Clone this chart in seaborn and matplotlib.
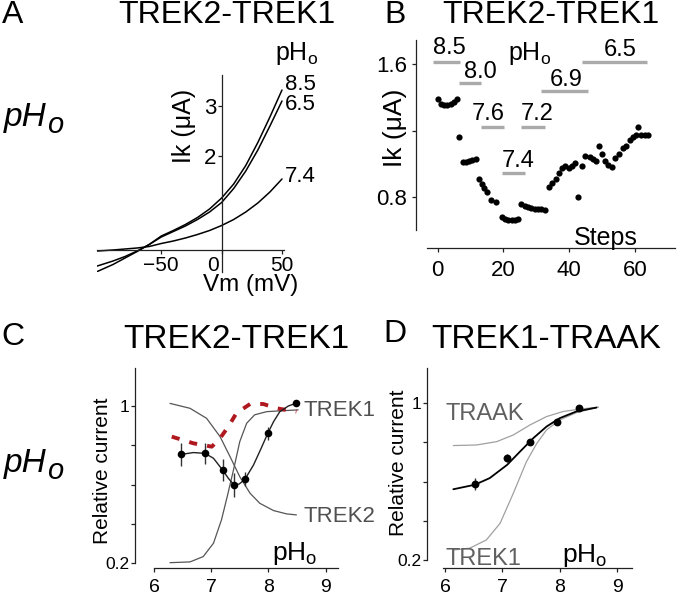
import matplotlib
matplotlib.use("Agg")
import matplotlib.pyplot as plt
import seaborn as sns
from matplotlib.transforms import ScaledTranslation

# A: I-V curves (TREK2-TREK1) at three pHo
vm = [-103, -90, -80, -70, -60, -50, -40, -30, -20, -10, 0, 10, 20, 30, 40, 50]
ik_85 = [-0.31, -0.17, -0.04, 0.09, 0.23, 0.40, 0.51, 0.63, 0.77, 0.94, 1.16, 1.44, 1.81, 2.27, 2.78, 3.32]
ik_65 = [-0.20, -0.10, -0.01, 0.10, 0.23, 0.38, 0.49, 0.60, 0.73, 0.88, 1.07, 1.35, 1.70, 2.12, 2.60, 3.10]
ik_74 = [0.10, 0.12, 0.14, 0.16, 0.19, 0.25, 0.30, 0.36, 0.43, 0.51, 0.61, 0.73, 0.88, 1.06, 1.28, 1.54]

# B: current over steps with pHo changes
steps = [0, 1, 2, 3, 4, 5, 6, 6.6, 7.6, 8.6, 9.6, 10.6, 11.8,
         12.6, 13.6, 14.2, 14.9, 16.4, 17.9, 19.6, 20.5, 21.5, 22.5, 23.5, 24.5,
         25.5, 26.5, 27.5, 28.5, 29.5, 30.5, 31.5, 32.6,
         33.8, 34.8, 35.9, 36.9, 37.9, 38.9, 39.9, 40.9, 41.9, 42.7,
         43.9, 44.9, 46.3, 47.3, 48.3, 49.0, 50.0, 50.8, 51.8, 53.0,
         54.1, 55.1, 56.4, 57.4, 58.4, 59.4, 60.3, 61.1, 62.0, 63.0, 64.0]
ik_steps = [1.39, 1.36, 1.353, 1.355, 1.359, 1.369, 1.39, 1.159, 1.01, 1.012, 1.018, 1.025, 1.03,
            0.908, 0.876, 0.852, 0.828, 0.782, 0.772, 0.682, 0.668, 0.664, 0.662, 0.662, 0.665,
            0.756, 0.748, 0.74, 0.735, 0.73, 0.727, 0.725, 0.724,
            0.862, 0.882, 0.908, 0.943, 0.976, 0.986, 0.973, 0.988, 1.003, 0.802,
            0.986, 1.047, 1.043, 1.029, 1.017, 1.109, 1.057, 1.017, 0.992, 0.979,
            1.033, 1.057, 1.097, 1.107, 1.143, 1.163, 1.17, 1.223, 1.173, 1.175, 1.175]
bar_ph = ["8.5", "8.0", "7.6", "7.2", "7.4", "6.9", "6.5"]
bar_start = [-1.3, 6.5, 13.2, 25.5, 19.6, 31.6, 44.0]
bar_end = [6.8, 13.2, 20.2, 32.6, 26.7, 45.8, 63.7]
bar_level = [1.61, 1.484, 1.219, 1.219, 0.943, 1.44, 1.612]

# C: relative current vs pHo, TREK2-TREK1
ph_c = [6.48, 6.89, 7.2, 7.39, 7.59, 7.99, 8.49]
rel_c = [0.754, 0.759, 0.674, 0.598, 0.627, 0.861, 1.014]
err_c = [0.058, 0.053, 0.055, 0.06, 0.035, 0.034, 0.0]
fit_c_ph = [6.48, 6.69, 6.89, 7.04, 7.2, 7.3, 7.4, 7.49, 7.59, 7.74, 7.86, 7.99, 8.09, 8.2, 8.35, 8.49]
fit_c = [0.754, 0.763, 0.759, 0.734, 0.674, 0.632, 0.598, 0.603, 0.627, 0.70, 0.776, 0.861, 0.92, 0.971, 1.0, 1.014]
trek2_ph = [6.28, 6.63, 6.92, 7.155, 7.33, 7.5, 7.68, 7.85, 8.09, 8.32, 8.49]
trek2_c = [1.013, 0.988, 0.937, 0.844, 0.742, 0.64, 0.556, 0.505, 0.468, 0.451, 0.446]
trek1_ph = [6.28, 6.63, 6.86, 7.04, 7.18, 7.28, 7.39, 7.5, 7.62, 7.76, 7.97, 8.26, 8.52]
trek1_c = [0.203, 0.207, 0.234, 0.302, 0.421, 0.539, 0.675, 0.819, 0.912, 0.955, 0.971, 0.976, 0.98]
red_ph = [6.31, 6.69, 7.01, 7.155, 7.3, 7.44, 7.68, 7.91, 8.145, 8.49]
red_c = [0.844, 0.81, 0.793, 0.836, 0.895, 0.963, 1.01, 1.01, 0.988, 0.971]

# D: relative current vs pHo, TREK1-TRAAK
ph_d = [6.52, 7.085, 7.48, 7.96, 8.34]
rel_d = [0.587, 0.722, 0.80, 0.906, 0.974]
err_d = [0.03, 0.02, 0.01, 0.01, 0.0]
fit_d_ph = [6.145, 6.52, 6.78, 7.085, 7.31, 7.54, 7.77, 8.0, 8.29, 8.64]
fit_d = [0.561, 0.584, 0.618, 0.686, 0.754, 0.822, 0.881, 0.924, 0.958, 0.978]
traak_ph = [6.145, 6.55, 6.9, 7.19, 7.48, 7.77, 8.06, 8.35, 8.67]
traak_d = [0.784, 0.787, 0.804, 0.838, 0.889, 0.932, 0.958, 0.97, 0.98]
trek1d_ph = [6.145, 6.43, 6.72, 6.96, 7.19, 7.42, 7.6, 7.77, 8.0, 8.29, 8.67]
trek1_d = [0.251, 0.26, 0.302, 0.387, 0.54, 0.702, 0.795, 0.864, 0.915, 0.952, 0.98]

sns.set_style("ticks")
plt.rcParams["font.family"] = ["Liberation Sans", "DejaVu Sans"]
plt.rcParams["mathtext.fontset"] = "custom"
plt.rcParams["mathtext.rm"] = "Liberation Sans"
plt.rcParams["mathtext.it"] = "Liberation Sans:italic"
plt.rcParams["text.color"] = "black"

W, H = 677, 598
fig = plt.figure(figsize=(W / 100, H / 100), dpi=100)


def box(l, t, r, b):
    return [l / W, 1 - b / H, (r - l) / W, (b - t) / H]


def ftext(x, y, s, **kw):
    fig.text(x / W, 1 - y / H, s, **kw)


def style_axis(ax, size_x, size_y):
    sns.despine(ax=ax)
    for sp in ("left", "bottom"):
        ax.spines[sp].set_linewidth(0.9)
        ax.spines[sp].set_color("#222222")
    ax.tick_params(axis="x", direction="out", length=3, width=0.9, labelsize=size_x, colors="#222222",
                   labelcolor="black")
    ax.tick_params(axis="y", direction="out", length=3, width=0.9, labelsize=size_y, colors="#222222",
                   labelcolor="black")
    ax.set_xlabel("")
    ax.set_ylabel("")
    ax.set_facecolor("none")


# ---------- A ----------
axA = fig.add_axes(box(97.3, 75, 284.4, 272))
for ik in (ik_85, ik_65, ik_74):
    sns.lineplot(x=vm, y=ik, ax=axA, color="black", linewidth=1.1, estimator=None, sort=False)
axA.set_xlim(-103, 52)
axA.set_ylim(-0.32, 3.62)
style_axis(axA, 15, 16)
axA.spines["left"].set_position(("data", 0))
axA.spines["bottom"].set_position(("data", 0.12))
axA.set_xticks([-50, 0, 50])
axA.set_yticks([2, 3])
axA.tick_params(axis="y", pad=1)
axA.tick_params(axis="x", pad=1.5)
lab0 = axA.get_xticklabels()[1]
lab0.set_ha("right")
lab0.set_transform(lab0.get_transform() + ScaledTranslation(-2 / 72, 0, fig.dpi_scale_trans))

ftext(13, 15, "A", fontsize=23, ha="center", va="center")
ftext(227, 15, "TREK2-TREK1", fontsize=23, ha="center", va="center")
ftext(275, 60, r"pH$_\mathrm{o}$", fontsize=18, ha="left", va="baseline")
ftext(285, 84.5, "8.5", fontsize=16, ha="left", va="center")
ftext(285, 104.5, "6.5", fontsize=16, ha="left", va="center")
ftext(285, 176, "7.4", fontsize=16, ha="left", va="center")
ftext(184, 126, "Ik (μA)", fontsize=18, ha="center", va="center", rotation=90)
ftext(251, 285, "Vm (mV)", fontsize=17.5, ha="center", va="center")
ftext(4, 126, "pH", fontsize=24, style="italic", ha="left", va="baseline")
ftext(47, 133, "o", fontsize=21, style="italic", ha="left", va="baseline")

# ---------- B ----------
axB = fig.add_axes(box(427, 40, 675, 248))
axB.hlines(bar_level, bar_start, bar_end, color="#aaaaaa", linewidth=2.4)
sns.scatterplot(x=steps, y=ik_steps, ax=axB, color="black", s=20, linewidth=0)
axB.set_xlim(-3.2, 72.2)
axB.set_ylim(0.4932, 1.7444)
style_axis(axB, 16, 16)
axB.spines["left"].set_position(("outward", 11 * 0.72))
axB.spines["left"].set_bounds(0.6, 1.7444)
axB.set_xticks([0, 20, 40, 60])
axB.set_yticks([0.8, 1.2, 1.6])
axB.set_yticklabels(["0.8", "", "1.6"])
axB.tick_params(axis="x", pad=6)

label_px = [(449.3, 47.7), (480, 71.7), (488.3, 114.3), (536.7, 114.3),
            (517.7, 161), (566, 80), (620, 50)]
for txt, (px, py) in zip(bar_ph, label_px):
    ftext(px, py, txt, fontsize=17, ha="center", va="center")
ftext(508, 60, r"pH$_\mathrm{o}$", fontsize=18, ha="left", va="baseline")
ftext(606, 238, "Steps", fontsize=18, ha="center", va="center")
ftext(395, 15, "B", fontsize=23, ha="center", va="center")
ftext(550.5, 15, "TREK2-TREK1", fontsize=23, ha="center", va="center")
ftext(395, 128, "Ik (μA)", fontsize=19, ha="center", va="center", rotation=90)

# ---------- C ----------
axC = fig.add_axes(box(154, 368, 338, 568))
sns.lineplot(x=trek2_ph, y=trek2_c, ax=axC, color="#555555", linewidth=0.9, estimator=None, sort=False)
sns.lineplot(x=trek1_ph, y=trek1_c, ax=axC, color="#555555", linewidth=0.9, estimator=None, sort=False)
sns.lineplot(x=red_ph, y=red_c, ax=axC, color="#b01820", linewidth=2.8, estimator=None, sort=False,
             linestyle=(0, (2.1, 2.6)))
sns.lineplot(x=fit_c_ph, y=fit_c, ax=axC, color="#222222", linewidth=1.0, estimator=None, sort=False)
axC.errorbar(ph_c, rel_c, yerr=err_c, fmt="none", ecolor="#333333", elinewidth=1.0, capsize=0)
sns.scatterplot(x=ph_c, y=rel_c, ax=axC, color="black", s=30, linewidth=0, zorder=5)
axC.set_xlim(6.0, 9.217)
axC.set_ylim(0.176, 1.193)
style_axis(axC, 14, 12.5)
axC.spines["left"].set_position(("outward", 19 * 0.72))
axC.spines["left"].set_bounds(0.2, 1.193)
axC.set_xticks([6, 7, 8, 9])
axC.set_yticks([0.2, 0.4, 0.6, 0.8, 1.0])
axC.set_yticklabels(["0.2", "", "", "", "1"])
axC.tick_params(axis="x", pad=5)
axC.tick_params(axis="y", pad=1)

ftext(13, 337, "C", fontsize=23, ha="center", va="center")
ftext(236, 340, "TREK2-TREK1", fontsize=24, ha="center", va="center")
ftext(304, 410.7, "TREK1", fontsize=16, color="#505050", ha="left", va="center")
ftext(304, 516, "TREK2", fontsize=16, color="#505050", ha="left", va="center")
ftext(272, 560, r"pH$_\mathrm{o}$", fontsize=19, ha="left", va="baseline")
ftext(102, 471, "Relative current", fontsize=15, ha="center", va="center", rotation=90)
ftext(4, 471.7, "pH", fontsize=24, style="italic", ha="left", va="baseline")
ftext(47, 479, "o", fontsize=21, style="italic", ha="left", va="baseline")

# ---------- D ----------
axD = fig.add_axes(box(443, 368, 632, 568))
sns.lineplot(x=traak_ph, y=traak_d, ax=axD, color="#a0a0a0", linewidth=0.9, estimator=None, sort=False)
sns.lineplot(x=trek1d_ph, y=trek1_d, ax=axD, color="#a0a0a0", linewidth=0.9, estimator=None, sort=False)
sns.lineplot(x=fit_d_ph, y=fit_d, ax=axD, color="black", linewidth=1.3, estimator=None, sort=False)
axD.errorbar(ph_d, rel_d, yerr=err_d, fmt="none", ecolor="#333333", elinewidth=1.0, capsize=0)
sns.scatterplot(x=ph_d, y=rel_d, ax=axD, color="black", s=32, linewidth=0, zorder=5)
axD.set_xlim(5.965, 9.26)
axD.set_ylim(0.159, 1.18)
style_axis(axD, 14, 12.5)
axD.spines["left"].set_position(("outward", 16 * 0.72))
axD.spines["left"].set_bounds(0.2, 1.18)
axD.set_xticks([6, 7, 8, 9])
axD.set_yticks([0.2, 0.4, 0.6, 0.8, 1.0])
axD.set_yticklabels(["0.2", "", "", "", "1"])
axD.tick_params(axis="x", pad=5)
axD.tick_params(axis="y", pad=1)

ftext(395, 334, "D", fontsize=23, ha="center", va="center")
ftext(546, 340, "TREK1-TRAAK", fontsize=24, ha="center", va="center")
ftext(445, 413.7, "TRAAK", fontsize=17, color="#606060", ha="left", va="center")
ftext(445, 559, "TREK1", fontsize=17, color="#606060", ha="left", va="center")
ftext(562, 561.7, r"pH$_\mathrm{o}$", fontsize=19, ha="left", va="baseline")
ftext(399, 463, "Relative current", fontsize=15, ha="center", va="center", rotation=90)

fig.savefig("out.png", dpi=100, facecolor="white")
